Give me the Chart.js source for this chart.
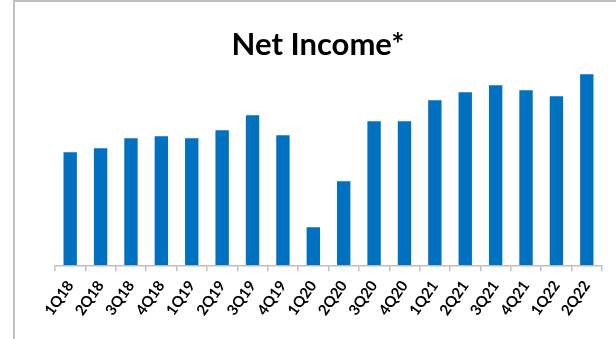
<!DOCTYPE html>
<html>
<head>
<meta charset="utf-8">
<script src="https://cdn.jsdelivr.net/npm/chart.js@4"></script>
<style>
  html, body { margin: 0; padding: 0; background: #fff; }
  #wrap { position: relative; width: 616px; height: 339px; }
  #frame {
    position: absolute; left: 13px; top: 0; width: 603px; height: 339px;
    border-left: 2px solid #c0c0c0; border-top: 2px solid #c0c0c0;
    box-sizing: border-box; pointer-events: none;
  }
</style>
</head>
<body>
<div id="wrap">
  <canvas id="myChart" width="616" height="339"></canvas>
  <div id="frame"></div>
</div>
<script>
const trimestres = ['1Q18', '2Q18', '3Q18', '4Q18', '1Q19', '2Q19', '3Q19', '4Q19', '1Q20',
                    '2Q20', '3Q20', '4Q20', '1Q21', '2Q21', '3Q21', '4Q21', '1Q22', '2Q22'];
const utilidad = [113, 117, 127, 129, 127, 135, 150, 130, 38,
                  84, 144, 144, 165, 173, 180, 175, 169, 191];

const ctx = document.getElementById('myChart');

new Chart(ctx, {
  type: 'bar',
  data: {
    labels: trimestres,
    datasets: [{
      label: 'Net Income',
      data: utilidad,
      backgroundColor: '#0070C0',
      barPercentage: 0.88,
      categoryPercentage: 0.5
    }]
  },
  options: {
    responsive: false,
    animation: false,
    layout: { padding: { left: 34, right: 14, top: 26, bottom: 14 } },
    plugins: {
      legend: { display: false },
      tooltip: { enabled: false },
      title: {
        display: true,
        text: 'Net Income*',
        color: '#000',
        font: { family: 'Lato', size: 31, weight: 'bold' },
        padding: { top: 0, bottom: 2 }
      }
    },
    scales: {
      x: {
        border: { display: true, color: '#bfbfbf', width: 1.5 },
        grid: { display: true, drawOnChartArea: false, drawTicks: true, tickLength: 6, color: '#bfbfbf', lineWidth: 1.5 },
        ticks: {
          color: '#000',
          autoSkip: false,
          minRotation: 55,
          maxRotation: 55,
          padding: 6,
          font: { family: 'Lato', size: 15, weight: 'bold' }
        }
      },
      y: {
        // eje oculto, solo reserva el margen izquierdo
        min: 0,
        max: 200,
        ticks: { display: false },
        grid: { display: false },
        border: { display: false },
        afterFit(scale) { scale.width = 21; }
      }
    }
  }
});
</script>
</body>
</html>
